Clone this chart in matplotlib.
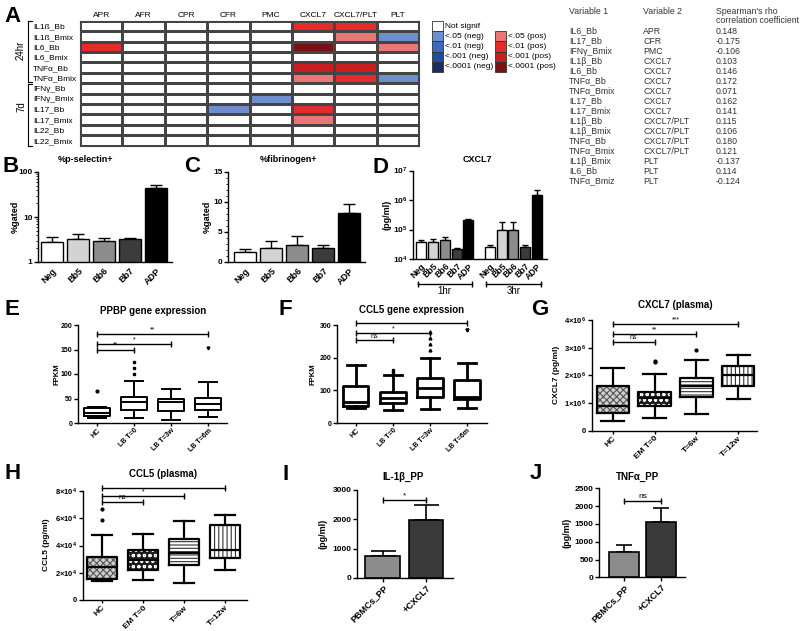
# Import libraries
import numpy as np
import matplotlib
matplotlib.use('Agg')
import matplotlib.pyplot as plt
from matplotlib.colors import ListedColormap
from matplotlib.patches import Rectangle
from matplotlib.ticker import LogLocator, MultipleLocator, NullFormatter

plt.rcParams['font.family'] = ['Liberation Sans', 'DejaVu Sans']
plt.rcParams['mathtext.fontset'] = 'custom'
plt.rcParams['mathtext.rm'] = 'Liberation Sans'
plt.rcParams['mathtext.bf'] = 'Liberation Sans:bold'
plt.rcParams['hatch.linewidth'] = 0.8

# Declare data
## Panel A - heatmap (0 = not signif, -1..-4 neg .05/.01/.001/.0001, 1..4 pos)
heat_rows = ['IL1ß_Bb', 'IL1ß_Bmix', 'IL6_Bb', 'IL6_Bmix', 'TNFα_Bb', 'TNFα_Bmix',
             'IFNγ_Bb', 'IFNγ_Bmix', 'IL17_Bb', 'IL17_Bmix', 'IL22_Bb', 'IL22_Bmix']
heat_cols = ['APR', 'AFR', 'CPR', 'CFR', 'PMC', 'CXCL7', 'CXCL7/PLT', 'PLT']
heat_sig = [
    [0, 0, 0, 0, 0, 2, 2, 0],
    [0, 0, 0, 0, 0, 0, 1, -1],
    [2, 0, 0, 0, 0, 4, 0, 1],
    [0, 0, 0, 0, 0, 0, 0, 0],
    [0, 0, 0, 0, 0, 3, 3, 0],
    [0, 0, 0, 0, 0, 1, 2, -1],
    [0, 0, 0, 0, 0, 0, 0, 0],
    [0, 0, 0, 0, -1, 0, 0, 0],
    [0, 0, 0, -1, 0, 2, 0, 0],
    [0, 0, 0, 0, 0, 1, 0, 0],
    [0, 0, 0, 0, 0, 0, 0, 0],
    [0, 0, 0, 0, 0, 0, 0, 0],
]
sig_colors = ['#1e2b5f', '#1a4f9c', '#3a6bbf', '#6d8fce', 'white',
              '#ea7677', '#e52c2d', '#c81e20', '#7a1212']
legend_neg = ['<.05 (neg)', '<.01 (neg)', '<.001 (neg)', '<.0001 (neg)']
legend_pos = ['<.05 (pos)', '<.01 (pos)', '<.001 (pos)', '<.0001 (pos)']

## Panel A - table
tab_var1 = ['IL6_Bb', 'IL17_Bb', 'IFNγ_Bmix', 'IL1β_Bb', 'IL6_Bb', 'TNFα_Bb', 'TNFα_Bmix',
            'IL17_Bb', 'IL17_Bmix', 'IL1β_Bb', 'IL1β_Bmix', 'TNFα_Bb', 'TNFα_Bmix',
            'IL1β_Bmix', 'IL6_Bb', 'TNFα_Bmiz']
tab_var2 = ['APR', 'CFR', 'PMC', 'CXCL7', 'CXCL7', 'CXCL7', 'CXCL7', 'CXCL7', 'CXCL7',
            'CXCL7/PLT', 'CXCL7/PLT', 'CXCL7/PLT', 'CXCL7/PLT', 'PLT', 'PLT', 'PLT']
tab_rho = [0.148, -0.175, -0.106, 0.103, 0.146, 0.172, 0.071, 0.162, 0.141,
           0.115, 0.106, 0.180, 0.121, -0.137, 0.114, -0.124]

## Panels B, C, D - bars
stim_groups = ['Neg', 'Bb5', 'Bb6', 'Bb7', 'ADP']
stim_colors = ['white', '#d3d3d3', '#8c8c8c', '#3c3c3c', 'black']
b_mean = [2.8, 3.2, 3.0, 3.2, 44]
b_sem = [0.8, 1.0, 0.5, 0.2, 7]
c_mean = [1.6, 2.4, 2.9, 2.3, 8.1]
c_sem = [0.5, 1.1, 1.4, 0.5, 1.6]
d_mean_1hr = [3.7e4, 3.9e4, 4.3e4, 2.1e4, 2.1e5]
d_sem_1hr = [0.6e4, 0.9e4, 1.1e4, 0.2e4, 0.1e5]
d_mean_3hr = [2.5e4, 9.6e4, 9.6e4, 2.5e4, 1.5e6]
d_sem_3hr = [0.6e4, 0.84e5, 0.84e5, 0.4e4, 0.6e6]

## Panels E, F - gene expression boxes
lb_groups = ['HC', 'LB T=0', 'LB T=3w', 'LB T=6m']
e_whislo = [9.6, 9.6, 5.5, 11.6]
e_q1 = [14, 26.5, 24.5, 26.5]
e_med = [21, 42, 42, 38]
e_q3 = [30, 53, 49.6, 51.6]
e_whishi = [32, 86, 69, 84]
e_fliers = [[66], [100, 113, 125], [], [154]]
f_whislo = [45, 40, 43, 47]
f_q1 = [53, 60, 80, 73]
f_med = [65, 77, 108, 80]
f_q3 = [113, 96, 137, 131]
f_whishi = [178, 147, 198, 184]
f_fliers = [[], [157, 162], [222, 243, 261, 278], [284, 286]]

## Panels G, H - plasma boxes
em_groups = ['HC', 'EM T=0', 'T=6w', 'T=12w']
g_whislo = [0.36e6, 0.45e6, 0.6e6, 1.14e6]
g_q1 = [0.63e6, 0.89e6, 1.23e6, 1.6e6]
g_med = [0.9e6, 1.19e6, 1.6e6, 2.0e6]
g_q3 = [1.6e6, 1.41e6, 1.9e6, 2.35e6]
g_whishi = [2.25e6, 2.05e6, 2.55e6, 2.75e6]
g_fliers = [[], [2.5e6, 2.52e6], [2.9e6], []]
h_whislo = [1.36e4, 1.45e4, 1.23e4, 2.17e4]
h_q1 = [1.55e4, 2.2e4, 2.55e4, 3.06e4]
h_med = [2.4e4, 2.9e4, 3.45e4, 3.7e4]
h_q3 = [3.15e4, 3.7e4, 4.45e4, 5.5e4]
h_whishi = [4.8e4, 4.85e4, 5.8e4, 6.25e4]
h_fliers = [[5.9e4, 6.65e4], [], [], []]

## Panels I, J - PBMC bars
pp_groups = ['PBMCs_PP', '+CXCL7']
pp_colors = ['#8c8c8c', '#3a3a3a']
i_mean = [750, 1970]
i_sem = [170, 510]
j_mean = [710, 1564]
j_sem = [187, 380]

## Significance brackets (group a, group b, text, height)
e_sig = [(0, 1, '**', 150), (0, 2, '*', 162), (0, 3, '**', 181)]
f_sig = [(0, 1, 'ns', 253), (0, 2, '*', 276), (0, 3, 'ns', 305)]
g_sig = [(0, 1, 'ns', 3.2e6), (0, 2, '**', 3.5e6), (0, 3, '***', 3.85e6)]
h_sig = [(0, 1, 'ns', 7.2e4), (0, 2, '*', 7.6e4), (0, 3, '**', 8.2e4)]
i_sig = [(0, 1, '*', 2650)]
j_sig = [(0, 1, 'ns', 2150)]

# Declare variable
W, H = 800, 631
fig = plt.figure(figsize=(W / 100, H / 100), dpi=100)
ov = fig.add_axes([0, 0, 1, 1])
ov.set_xlim(0, W)
ov.set_ylim(H, 0)
ov.axis('off')
ov.patch.set_visible(False)


# Declare function
def px_axes(x0, y0, x1, y1):
    return fig.add_axes([x0 / W, 1 - y1 / H, (x1 - x0) / W, (y1 - y0) / H])


def prism(ax):
    for s in ['top', 'right']:
        ax.spines[s].set_visible(False)
    for s in ['left', 'bottom']:
        ax.spines[s].set_linewidth(1.0)
    ax.tick_params(direction='out', length=3, width=1, pad=1)
    ax.tick_params(which='minor', direction='out', length=1.5, width=0.6)


def letter(x, y, s):
    ov.text(x, y, s, fontsize=16, fontweight='bold', ha='left', va='baseline')


def title(x, y, s, fs=6.5):
    ov.text(x, y, s, fontsize=fs, fontweight='bold', ha='center', va='center')


def ylab(x, y, s, fs=6.5):
    ov.text(x, y, s, fontsize=fs, fontweight='bold', ha='center', va='center', rotation=90)


def xlabels(ax, labels, fs=6):
    ax.set_xticklabels(labels, rotation=45, ha='right', va='top', rotation_mode='anchor',
                       fontsize=fs, fontweight='bold')


def ylabels(ax, ticks, labels, fs=6):
    ax.set_yticks(ticks)
    ax.set_yticklabels(labels, fontsize=fs, fontweight='bold')


def bars(ax, pos, mean, sem, colors, width, bottom=0, capsize=4, lw=1.0):
    ## Bars with upper error only
    mean = np.array(mean, dtype=float)
    ax.bar(pos, mean - bottom, width, bottom=bottom, color=colors, edgecolor='black',
           linewidth=lw, zorder=3)
    ax.errorbar(pos, mean, yerr=[np.zeros(len(mean)), sem], fmt='none', ecolor='black',
                elinewidth=lw, capsize=capsize, capthick=lw, zorder=2)


def boxes(ax, whislo, q1, med, q3, whishi, fliers, markers, width, lw, fills=None):
    stats = []
    for i in range(len(q1)):
        stats.append(dict(whislo=whislo[i], q1=q1[i], med=med[i], q3=q3[i],
                          whishi=whishi[i], fliers=fliers[i]))
    pos = np.arange(len(q1))
    if fills is not None:
        for i, (fc, hc, h) in enumerate(fills):
            ax.add_patch(Rectangle((pos[i] - width / 2, q1[i]), width, q3[i] - q1[i],
                                   facecolor=fc, edgecolor=hc, hatch=h, lw=0, zorder=1))
    line = dict(color='black', linewidth=lw)
    bp = ax.bxp(stats, positions=pos, widths=width, capwidths=width * 0.7, showfliers=True,
                boxprops=line, whiskerprops=line, capprops=line, medianprops=line,
                flierprops=dict(marker='o', markersize=2, markerfacecolor='black',
                                markeredgecolor='black'), manage_ticks=False)
    for i, fl in enumerate(bp['fliers']):
        fl.set_marker(markers[i])


def brackets(ax, sigs, fs=5):
    for a, b, txt, y in sigs:
        ax.plot([a, b], [y, y], color='black', lw=1, clip_on=False)
        ax.plot([a, b], [y, y], ls='none', marker='|', ms=4, mew=1, color='black', clip_on=False)
        ax.annotate(txt, ((a + b) / 2, y), xytext=(0, 0.5), textcoords='offset points',
                    ha='center', va='bottom', fontsize=fs, clip_on=False)


# Panel A - heatmap
axA = px_axes(80, 20.7, 419, 145.7)
axA.pcolormesh(np.array(heat_sig) + 4, cmap=ListedColormap(sig_colors), vmin=-0.5, vmax=8.5,
               edgecolors='#444444', linewidth=0.8)
axA.set_xlim(0, len(heat_cols))
axA.set_ylim(len(heat_rows), 0)
axA.xaxis.tick_top()
axA.set_xticks(np.arange(len(heat_cols)) + 0.5)
axA.set_xticklabels(heat_cols, fontsize=6)
axA.set_yticks(np.arange(len(heat_rows)) + 0.5)
axA.set_yticklabels(heat_rows, fontsize=6, ha='left')
axA.tick_params(length=0, pad=1)
axA.tick_params(axis='y', pad=34)
for s in axA.spines.values():
    s.set_linewidth(0.8)
    s.set_color('#444444')
letter(4, 22, 'A')
## Group bracket 24hr / 7d
ov.plot([28, 28], [20.7, 81.5], color='black', lw=0.8)
ov.plot([28, 28], [84, 145.7], color='black', lw=0.8)
for yy in [20.7, 81.5, 84, 145.7]:
    ov.plot([28, 32], [yy, yy], color='black', lw=0.8)
ov.text(21, 50, '24hr', fontsize=7, rotation=90, ha='center', va='center')
ov.text(21, 107, '7d', fontsize=7, rotation=90, ha='center', va='center')

## Legend
ov.add_patch(Rectangle((432, 21), 11, 10.2, facecolor=sig_colors[4], edgecolor='#333333', lw=0.6))
ov.text(445, 26, 'Not signif', fontsize=6, va='center')
for i in range(4):
    y0 = 31.2 + 10.2 * i
    ov.add_patch(Rectangle((432, y0), 11, 10.2, facecolor=sig_colors[3 - i], edgecolor='#333333', lw=0.6))
    ov.text(445, y0 + 5.1, legend_neg[i], fontsize=6, va='center')
    ov.add_patch(Rectangle((495, y0), 11, 10.2, facecolor=sig_colors[5 + i], edgecolor='#333333', lw=0.6))
    ov.text(508, y0 + 5.1, legend_pos[i], fontsize=6, va='center')

## Table
tc = '#333333'
ov.text(569, 11, 'Variable 1', fontsize=6.3, va='center', color=tc)
ov.text(643, 11, 'Variable 2', fontsize=6.3, va='center', color=tc)
ov.text(716, 11, "Spearman's rho", fontsize=6.3, va='center', color=tc)
ov.text(716, 20.7, 'correlation coefficient', fontsize=6.3, va='center', color=tc)
for i in range(len(tab_var1)):
    yy = 31 + 10 * i
    ov.text(569, yy, tab_var1[i], fontsize=6.3, va='center', color=tc)
    ov.text(643, yy, tab_var2[i], fontsize=6.3, va='center', color=tc)
    ov.text(716, yy, f'{tab_rho[i]:.3f}', fontsize=6.3, va='center', color=tc)

# Panel B
axB = px_axes(38, 172, 172, 262)
prism(axB)
bars(axB, np.arange(5), b_mean, b_sem, stim_colors, 0.85, bottom=1, capsize=4)
axB.set_yscale('log')
axB.set_ylim(1, 100)
axB.set_xlim(-0.54, 4.62)
axB.yaxis.set_minor_locator(LogLocator(base=10, subs=np.arange(2, 10)))
axB.yaxis.set_minor_formatter(NullFormatter())
ylabels(axB, [1, 10, 100], ['1', '10', '100'])
axB.set_xticks(np.arange(5))
xlabels(axB, stim_groups, fs=6.5)
axB.tick_params(axis='x', length=0, pad=3)
letter(3, 172, 'B')
title(85, 160, '%p-selectin+')
ylab(15, 217, '%gated')

# Panel C
axC = px_axes(228, 172, 365, 262)
prism(axC)
bars(axC, np.arange(5), c_mean, c_sem, stim_colors, 0.85, capsize=4)
axC.set_ylim(0, 15)
axC.set_xlim(-0.65, 4.6)
axC.yaxis.set_minor_locator(MultipleLocator(1))
ylabels(axC, [0, 5, 10, 15], ['0', '5', '10', '15'])
axC.set_xticks(np.arange(5))
xlabels(axC, stim_groups, fs=6.5)
axC.tick_params(axis='x', length=0, pad=3)
letter(184, 172, 'C')
title(289, 160, '%fibrinogen+')
ylab(207, 217, '%gated')

# Panel D
axD = px_axes(413, 170.5, 547, 259)
prism(axD)
pos1 = np.arange(5)
pos3 = np.arange(5) + 5.8
bars(axD, pos1, d_mean_1hr, d_sem_1hr, stim_colors, 0.84, bottom=1e4, capsize=2.5)
bars(axD, pos3, d_mean_3hr, d_sem_3hr, stim_colors, 0.84, bottom=1e4, capsize=2.5)
axD.set_yscale('log')
axD.set_ylim(1e4, 1e7)
axD.set_xlim(-0.68, 10.63)
axD.yaxis.set_minor_locator(LogLocator(base=10, subs=np.arange(2, 10)))
axD.yaxis.set_minor_formatter(NullFormatter())
ylabels(axD, [1e4, 1e5, 1e6, 1e7], [r'$\mathbf{10^{4}}$', r'$\mathbf{10^{5}}$',
                                     r'$\mathbf{10^{6}}$', r'$\mathbf{10^{7}}$'], fs=6)
axD.set_xticks(np.concatenate([pos1, pos3]))
xlabels(axD, stim_groups + stim_groups, fs=6.2)
axD.tick_params(axis='x', length=0, pad=2)
tr = axD.get_xaxis_transform()
for pp, lab in [(pos1, '1hr'), (pos3, '3hr')]:
    axD.plot([pp[0] - 0.3, pp[-1] + 0.3], [-0.28, -0.28], color='black', lw=1, transform=tr, clip_on=False)
    axD.plot([pp[0] - 0.3, pp[-1] + 0.3], [-0.28, -0.28], ls='none', marker='|', ms=4, mew=1,
             color='black', transform=tr, clip_on=False)
    axD.text((pp[0] + pp[-1]) / 2, -0.31, lab, fontsize=7, ha='center', va='top', transform=tr)
letter(373, 173, 'D')
title(477, 160, 'CXCL7')
ylab(387, 215, '(pg/ml)')

# Panel E
axE = px_axes(78, 325, 227, 423)
prism(axE)
boxes(axE, e_whislo, e_q1, e_med, e_q3, e_whishi, e_fliers, ['o', 's', '^', 'v'], 0.68, 1.4)
axE.set_ylim(0, 200)
axE.set_xlim(-0.51, 3.51)
ylabels(axE, [0, 50, 100, 150, 200], ['0', '50', '100', '150', '200'], fs=5)
axE.set_xticks(np.arange(4))
xlabels(axE, lb_groups, fs=5)
axE.tick_params(axis='x', length=2)
brackets(axE, e_sig, fs=5)
letter(4, 315, 'E')
title(153, 311, 'PPBP gene expression', fs=7)
ylab(57, 374, 'FPKM', fs=5.5)

# Panel F
axF = px_axes(337, 325, 487, 423)
prism(axF)
boxes(axF, f_whislo, f_q1, f_med, f_q3, f_whishi, f_fliers, ['o', 's', '^', 'v'], 0.68, 2.0)
axF.set_ylim(0, 300)
axF.set_xlim(-0.51, 3.54)
ylabels(axF, [0, 100, 200, 300], ['0', '100', '200', '300'], fs=5)
axF.set_xticks(np.arange(4))
xlabels(axF, lb_groups, fs=5)
axF.tick_params(axis='x', length=2)
brackets(axF, f_sig, fs=5)
letter(279, 315, 'F')
title(412, 310, 'CCL5 gene expression', fs=7)
ylab(313, 374, 'FPKM', fs=5.5)

# Panel G
plasma_fills = [('#cfcfcf', '#555555', 'xxxxx'), ('#1e1e1e', 'white', 'ooo'),
                ('white', '#333333', '-----'), ('white', '#333333', '||||')]
axG = px_axes(592, 320, 757, 430.7)
prism(axG)
boxes(axG, g_whislo, g_q1, g_med, g_q3, g_whishi, g_fliers, ['o', 'o', 'o', 'o'], 0.78, 1.6,
      fills=plasma_fills)
axG.set_ylim(0, 4e6)
axG.set_xlim(-0.5, 3.45)
ylabels(axG, [0, 1e6, 2e6, 3e6, 4e6],
        ['0'] + [r'$\mathbf{%d{\times}10^{6}}$' % k for k in range(1, 5)], fs=5.5)
axG.set_xticks(np.arange(4))
xlabels(axG, em_groups, fs=6)
axG.tick_params(axis='x', length=2)
brackets(axG, g_sig, fs=5)
letter(531, 315, 'G')
title(675, 305, 'CXCL7 (plasma)', fs=7)
ylab(556, 375, 'CXCL7 (pg/ml)', fs=6)

# Panel H
axH = px_axes(83, 491, 247, 600)
prism(axH)
boxes(axH, h_whislo, h_q1, h_med, h_q3, h_whishi, h_fliers, ['o', 'o', 'o', 'o'], 0.72, 1.6,
      fills=plasma_fills)
axH.set_ylim(0, 8e4)
axH.set_xlim(-0.46, 3.54)
ylabels(axH, [0, 2e4, 4e4, 6e4, 8e4],
        ['0'] + [r'$\mathbf{%d{\times}10^{4}}$' % k for k in range(2, 9, 2)], fs=5.5)
axH.set_xticks(np.arange(4))
xlabels(axH, em_groups, fs=6)
axH.tick_params(axis='x', length=2)
brackets(axH, h_sig, fs=5)
letter(4, 479, 'H')
title(163, 474, 'CCL5 (plasma)', fs=7)
ylab(47, 545, 'CCL5 (pg/ml)', fs=6)

# Panel I
axI = px_axes(357, 490, 453, 578)
prism(axI)
bars(axI, np.arange(2), i_mean, i_sem, pp_colors, 0.8, capsize=9, lw=1.2)
axI.set_ylim(0, 3000)
axI.set_xlim(-0.59, 1.62)
ylabels(axI, [0, 1000, 2000, 3000], ['0', '1000', '2000', '3000'], fs=6)
axI.set_xticks(np.arange(2))
xlabels(axI, pp_groups, fs=6.5)
axI.tick_params(axis='x', length=3)
brackets(axI, i_sig, fs=6)
letter(283, 480, 'I')
title(403, 477, 'IL-1β_PP', fs=7)
ylab(323, 534, '(pg/ml)', fs=6.5)

# Panel J
axJ = px_axes(599, 488.3, 685, 577.3)
prism(axJ)
bars(axJ, np.arange(2), j_mean, j_sem, pp_colors, 0.8, capsize=6, lw=1.2)
axJ.set_ylim(0, 2500)
axJ.set_xlim(-0.67, 1.63)
ylabels(axJ, [0, 500, 1000, 1500, 2000, 2500], ['0', '500', '1000', '1500', '2000', '2500'], fs=6)
axJ.set_xticks(np.arange(2))
xlabels(axJ, pp_groups, fs=6.5)
axJ.tick_params(axis='x', length=3)
brackets(axJ, j_sig, fs=6)
letter(530, 479, 'J')
title(637, 477, 'TNFα_PP', fs=7)
ylab(567, 533, '(pg/ml)', fs=6.5)

fig.savefig('out.png', dpi=100)
